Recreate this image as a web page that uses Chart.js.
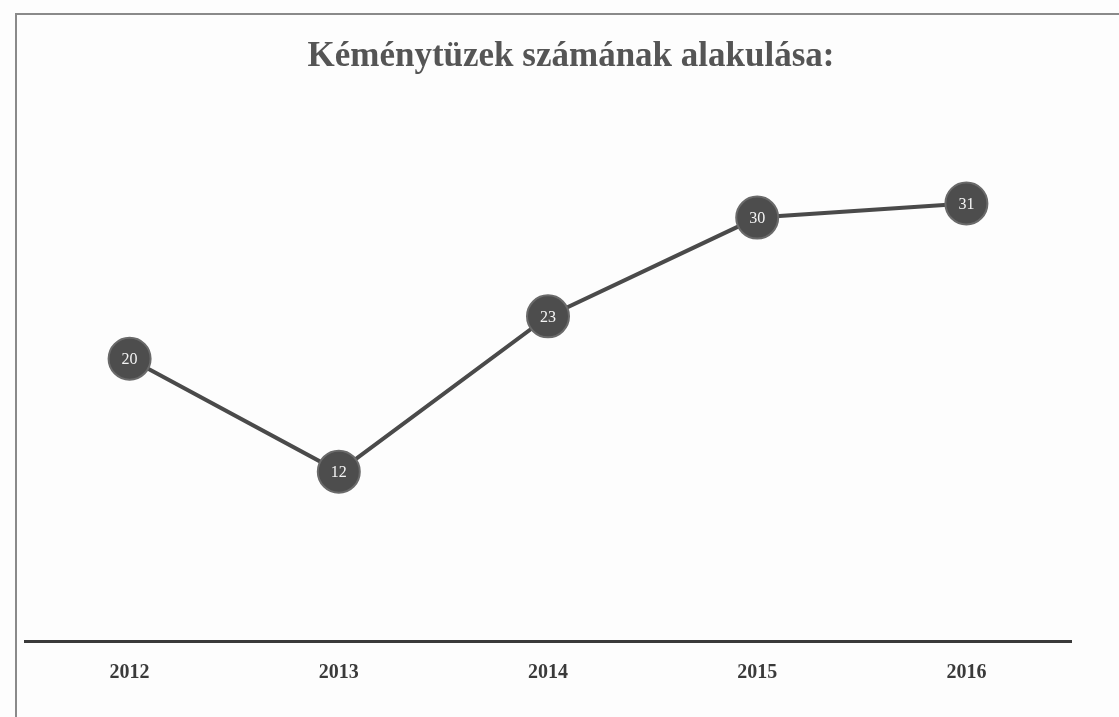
<!DOCTYPE html>
<html>
<head>
<meta charset="utf-8">
<script src="https://cdn.jsdelivr.net/npm/chart.js@4/dist/chart.umd.min.js"></script>
<style>
    html, body { margin: 0; padding: 0; background: #fdfdfd; }
    #wrap { position: relative; width: 1119px; height: 717px; }
    #frame { position: absolute; left: 15px; top: 13px; width: 1110px; height: 720px; border: 2px solid #8a8a8a; box-sizing: border-box; }
    canvas { position: absolute; left: 0; top: 0; }
</style>
</head>
<body>
<div id="wrap">
    <div id="frame"></div>
    <canvas id="chart" width="1119" height="717"></canvas>
</div>
<script>
'use strict';

const TITLE  = 'Kéménytüzek számának alakulása:';
const YEARS  = ['2012', '2013', '2014', '2015', '2016'];
const FIRES  = [20, 12, 23, 30, 31];

const SERIF = '"Liberation Serif", "DejaVu Serif", serif';

// ── Title, centred on the frame rather than the plot area ───────────────────

const frameTitle = {
    id: 'frameTitle',
    afterDraw(chart) {
        const ctx = chart.ctx;
        ctx.save();
        ctx.fillStyle = '#555';
        ctx.font = `bold 35px ${SERIF}`;
        ctx.textAlign = 'center';
        ctx.textBaseline = 'middle';
        ctx.fillText(TITLE, 571, 57);
        ctx.restore();
    }
};

// ── Value labels inside the markers ─────────────────────────────────────────

const pointLabels = {
    id: 'pointLabels',
    afterDatasetsDraw(chart) {
        const ctx  = chart.ctx;
        const meta = chart.getDatasetMeta(0);
        ctx.save();
        ctx.fillStyle = '#f4f4f4';
        ctx.font = `16px ${SERIF}`;
        ctx.textAlign = 'center';
        ctx.textBaseline = 'middle';
        meta.data.forEach((pt, i) => {
            ctx.fillText(String(FIRES[i]), pt.x, pt.y + 1);
        });
        ctx.restore();
    }
};

// ── Chart ───────────────────────────────────────────────────────────────────

new Chart(document.getElementById('chart').getContext('2d'), {
    type: 'line',
    data: {
        labels: YEARS,
        datasets: [{
            data: FIRES,
            borderColor: '#4a4a4a',
            borderWidth: 4,
            pointRadius: 21,
            pointBackgroundColor: '#4d4d4d',
            pointBorderColor: '#6a6a6a',
            pointBorderWidth: 2,
            tension: 0,
            clip: false,
        }]
    },
    options: {
        responsive: false,
        animation: false,
        layout: { padding: { left: 25, right: 48, top: 147, bottom: 20 } },
        plugins: {
            legend: { display: false },
            tooltip: { enabled: false },
            title: { display: false },
        },
        scales: {
            x: {
                offset: true,
                grid: { display: false },
                border: { display: true, color: '#3a3a3a', width: 3 },
                ticks: {
                    color: '#3a3a3a',
                    padding: 12,
                    font: { family: SERIF, size: 20, weight: 'bold' },
                },
            },
            y: {
                display: false,
                min: 0,
                max: 35,
            },
        },
    },
    plugins: [pointLabels, frameTitle],
});
</script>
</body>
</html>
